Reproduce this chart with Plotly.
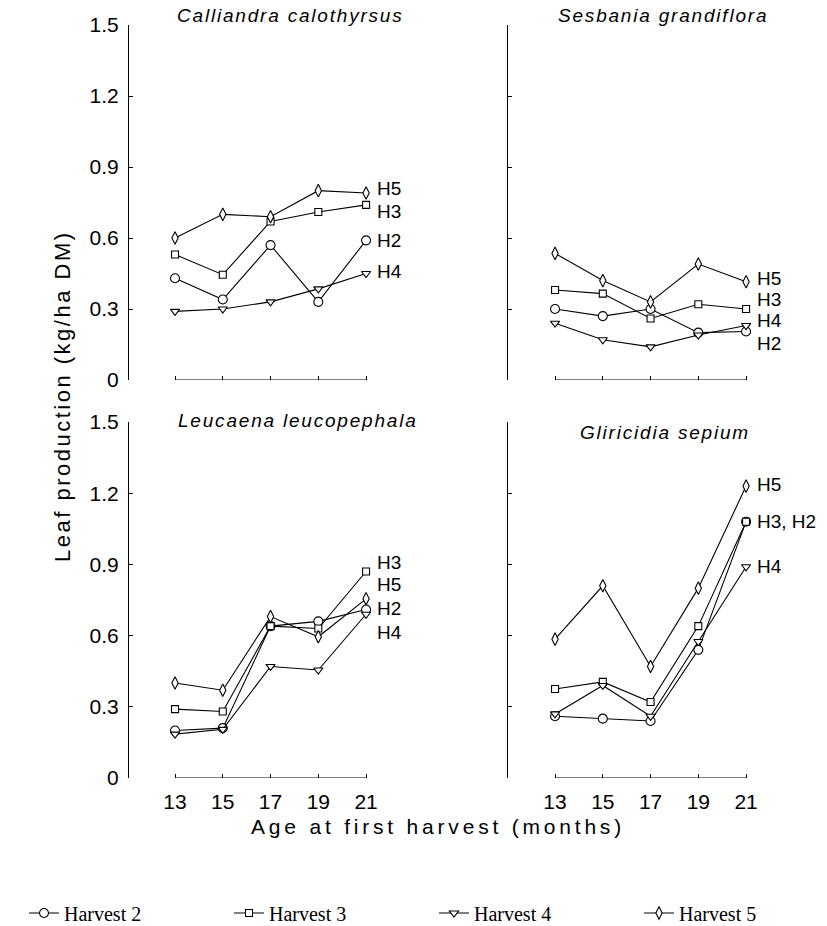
import plotly.graph_objects as go

W, H = 827, 926

months = [13, 15, 17, 19, 21]
harvest_names = ["Harvest 2", "Harvest 3", "Harvest 4", "Harvest 5"]
tick_vals_y = [0, 0.3, 0.6, 0.9, 1.2, 1.5]
tick_text_y = ["0", "0.3", "0.6", "0.9", "1.2", "1.5"]

# Calliandra calothyrsus
cal_h2 = [0.43, 0.34, 0.57, 0.33, 0.59]
cal_h3 = [0.53, 0.445, 0.67, 0.71, 0.74]
cal_h4 = [0.29, 0.30, 0.33, 0.385, 0.45]
cal_h5 = [0.60, 0.70, 0.69, 0.80, 0.79]
# Sesbania grandiflora
ses_h2 = [0.30, 0.27, 0.30, 0.20, 0.205]
ses_h3 = [0.38, 0.365, 0.26, 0.32, 0.30]
ses_h4 = [0.24, 0.17, 0.14, 0.19, 0.23]
ses_h5 = [0.535, 0.42, 0.33, 0.49, 0.415]
# Leucaena leucopephala
leu_h2 = [0.20, 0.21, 0.64, 0.66, 0.71]
leu_h3 = [0.29, 0.28, 0.64, 0.63, 0.87]
leu_h4 = [0.185, 0.205, 0.47, 0.455, 0.69]
leu_h5 = [0.40, 0.37, 0.68, 0.595, 0.755]
# Gliricidia sepium
gli_h2 = [0.26, 0.25, 0.24, 0.54, 1.08]
gli_h3 = [0.375, 0.405, 0.32, 0.64, 1.08]
gli_h4 = [0.27, 0.39, 0.26, 0.575, 0.89]
gli_h5 = [0.585, 0.81, 0.47, 0.80, 1.23]

panel_titles = ["Calliandra calothyrsus", "Sesbania grandiflora",
                "Leucaena leucopephala", "Gliricidia sepium"]
panel_series = [
    [cal_h2, cal_h3, cal_h4, cal_h5],
    [ses_h2, ses_h3, ses_h4, ses_h5],
    [leu_h2, leu_h3, leu_h4, leu_h5],
    [gli_h2, gli_h3, gli_h4, gli_h5],
]
# end labels: (text, y value)
panel_labels = [
    [("H5", 0.81), ("H3", 0.71), ("H2", 0.59), ("H4", 0.46)],
    [("H5", 0.43), ("H3", 0.34), ("H4", 0.25), ("H2", 0.155)],
    [("H3", 0.91), ("H5", 0.815), ("H2", 0.715), ("H4", 0.615)],
    [("H5", 1.235), ("H3, H2", 1.08), ("H4", 0.89)],
]

symbols = ["circle", "square", "triangle-down", "diamond-tall"]
sizes = [9, 7, 8, 9]

SANS = "Liberation Sans, Arial, sans-serif"
SERIF = "Liberation Serif, Times New Roman, serif"


def px_x(p):
    return p / W


def px_y(p):
    return 1 - p / H


# axes geometry (pixels)
col_x = [(129, 400, 11.073), (508, 780, 11.03)]
row_y = [(25, 380), (422, 778)]
PPM = 23.88  # pixels per month

fig = go.Figure()

for i in range(4):
    r, c = divmod(i, 2)
    ax = "" if i == 0 else str(i + 1)
    xref, yref = "x" + ax, "y" + ax
    for k, vals in enumerate(panel_series[i]):
        fig.add_trace(go.Scatter(
            x=months, y=vals, mode="lines+markers",
            name=harvest_names[k], legendgroup=harvest_names[k],
            showlegend=(i == 0),
            line=dict(color="black", width=1.1),
            marker=dict(symbol=symbols[k], size=sizes[k], color="white",
                        line=dict(color="black", width=1.1)),
            xaxis=xref, yaxis=yref,
        ))
    x0p, x1p, xr0 = col_x[c]
    y0p, y1p = row_y[r]
    xr1 = xr0 + (x1p - x0p) / PPM
    fig.layout["xaxis" + ax] = dict(
        domain=[px_x(x0p), px_x(x1p)], range=[xr0, xr1], anchor=yref,
        showline=False, showgrid=False, zeroline=False,
        ticks="inside", ticklen=4, tickwidth=1, tickcolor="black",
        tickvals=months, ticktext=[str(m) for m in months],
        showticklabels=(r == 1), ticklabelstandoff=9,
        tickfont=dict(family=SANS, size=21, color="black"),
    )
    fig.layout["yaxis" + ax] = dict(
        domain=[px_y(y1p), px_y(y0p)], range=[0, 1.5], anchor=xref,
        showline=True, linecolor="black", linewidth=1,
        showgrid=False, zeroline=False,
        ticks="inside", ticklen=4, tickwidth=1, tickcolor="black",
        tickvals=tick_vals_y, ticktext=tick_text_y,
        showticklabels=(c == 0), ticklabelstandoff=5,
        tickfont=dict(family=SANS, size=21, color="black"),
    )
    # x-axis bracket spanning the categories only
    fig.add_shape(type="line", xref=xref, yref=yref,
                  x0=months[0], x1=months[-1], y0=0, y1=0,
                  line=dict(color="black", width=1))
    # panel title
    title_y = [15, 15, 420, 432][i]
    title_x = [290, 663, 298, 665][i]
    fig.add_annotation(
        x=px_x(title_x), y=px_y(title_y), xref="paper", yref="paper",
        text='<span style="letter-spacing:1.8px">' + panel_titles[i] + "</span>",
        showarrow=False, xanchor="center", yanchor="middle",
        font=dict(family=SANS, size=19, color="black", style="italic"),
    )
    for txt, yv in panel_labels[i]:
        fig.add_annotation(
            x=months[-1], y=yv, xref=xref, yref=yref, xshift=9,
            text=txt,
            showarrow=False, xanchor="left", yanchor="middle",
            font=dict(family=SANS, size=19, color="black"),
        )

# axis titles
fig.add_annotation(
    x=px_x(62), y=px_y(396), xref="paper", yref="paper",
    text='<span style="letter-spacing:2.5px">Leaf production (kg/ha DM)</span>',
    showarrow=False, textangle=-90, xanchor="center", yanchor="middle",
    font=dict(family=SANS, size=22, color="black"),
)
fig.add_annotation(
    x=px_x(438), y=px_y(826), xref="paper", yref="paper",
    text='<span style="letter-spacing:3.8px">Age at first harvest (months)</span>',
    showarrow=False, xanchor="center", yanchor="middle",
    font=dict(family=SANS, size=21, color="black"),
)

fig.update_layout(
    width=W, height=H,
    margin=dict(l=0, r=0, t=0, b=0, autoexpand=False),
    paper_bgcolor="white", plot_bgcolor="white",
    showlegend=True,
    legend=dict(
        orientation="h", x=px_x(24), y=px_y(913), xanchor="left", yanchor="middle",
        font=dict(family=SERIF, size=20, color="black"),
        entrywidth=160, entrywidthmode="pixels",
        bgcolor="rgba(0,0,0,0)", itemwidth=30,
    ),
)

fig.write_html("out.html")
